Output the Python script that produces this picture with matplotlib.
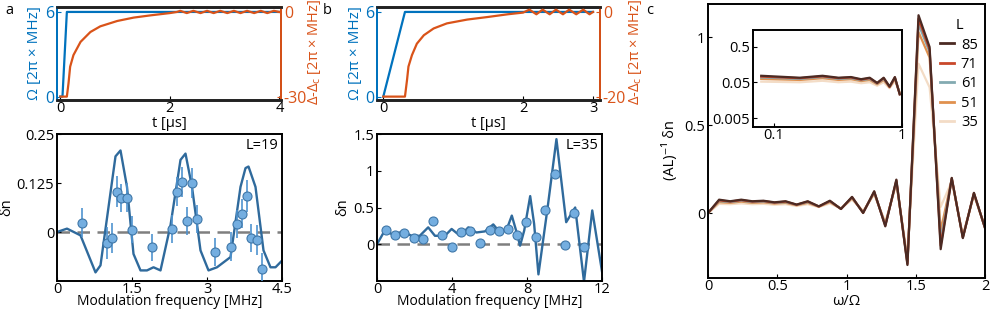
import numpy as np
import matplotlib
matplotlib.use('Agg')
import matplotlib.pyplot as plt

plt.rcParams['font.family'] = ['Open Sans', 'DejaVu Sans']
plt.rcParams['mathtext.fontset'] = 'custom'
plt.rcParams['mathtext.rm'] = 'Open Sans'
plt.rcParams['font.size'] = 10.5
plt.rcParams['axes.linewidth'] = 1.4
plt.rcParams['xtick.direction'] = 'in'
plt.rcParams['ytick.direction'] = 'in'
plt.rcParams['xtick.major.size'] = 3
plt.rcParams['ytick.major.size'] = 3

FS = 10.5
BLUE = '#0072BD'
ORANGE = '#D95319'
LINE = '#2f6a9c'
DOT = '#74aee0'
DOTEDGE = '#3f77a8'
ERR = '#4f93cf'

# ---------------- data: panel a (top) ----------------
a_t_rabi = [0, 0.04, 0.12, 4.0]
a_rabi = [0, 0, 6, 6]
a_t_det = [0, 0.12, 0.15, 0.18, 0.24, 0.37, 0.55, 0.73, 1.04, 1.34, 1.65, 2.0, 2.13,
           2.19, 2.31, 2.43, 2.56, 2.68, 2.80, 2.92, 3.05, 3.17, 3.29, 3.41, 3.54,
           3.66, 3.78, 3.90, 4.0]
a_det = [-30, -30, -25.3, -19.4, -15.3, -10.6, -7.1, -5.1, -3.2, -2.0, -1.2, -0.4, 0,
         0.4, -0.4, 0.4, -0.4, 0.4, -0.4, 0.4, -0.4, 0.4, -0.4, 0.4, -0.4,
         0.4, -0.4, 0.4, 0]

# ---------------- data: panel b (top) ----------------
b_t_rabi = [0, 0.31, 3.0]
b_rabi = [0, 6, 6]
b_t_det = [0, 0.31, 0.34, 0.36, 0.41, 0.48, 0.58, 0.72, 0.91, 1.2, 1.49, 1.78, 2.0,
           2.09, 2.19, 2.28, 2.38, 2.47, 2.57, 2.66, 2.76, 2.86, 2.95, 3.0]
b_det = [-20, -20, -16, -12.9, -10.2, -7.5, -5.5, -3.9, -2.7, -1.8, -1.2, -0.55, -0.15,
         0.55, -0.55, 0.55, -0.55, 0.55, -0.55, 0.55, -0.55, 0.55, -0.55, 0]

# ---------------- data: panel a (bottom), L=19 ----------------
a_f_th = [0, 0.2, 0.47, 0.77, 0.87, 1.17, 1.27, 1.4, 1.53, 1.67, 1.8, 1.93, 2.07,
          2.27, 2.47, 2.57, 2.7, 2.87, 3.03, 3.2, 3.47, 3.67, 3.77, 3.83, 3.97,
          4.13, 4.27, 4.37, 4.5]
a_dn_th = [0, 0.0086, -0.0086, -0.103, -0.085, 0.193, 0.208, 0.115, -0.056, -0.098,
           -0.098, -0.09, -0.098, 0.017, 0.184, 0.2, 0.115, -0.047, -0.098, -0.09,
           -0.064, 0.115, 0.163, 0.167, 0.115, -0.047, -0.09, -0.09, -0.073]
a_f_exp = [0.49, 0.99, 1.1, 1.19, 1.28, 1.4, 1.5, 1.9, 2.29, 2.39, 2.49, 2.59, 2.69,
           2.79, 3.15, 3.48, 3.59, 3.69, 3.79, 3.88, 3.99, 4.1]
a_dn_exp = [0.024, -0.028, -0.015, 0.103, 0.086, 0.088, 0.006, -0.039, 0.007, 0.103,
            0.128, 0.028, 0.126, 0.033, -0.051, -0.037, 0.021, 0.047, 0.092, -0.015,
            -0.021, -0.094]
a_dn_err = [0.037, 0.040, 0.038, 0.040, 0.036, 0.038, 0.035, 0.034, 0.036, 0.037,
            0.038, 0.036, 0.038, 0.035, 0.036, 0.037, 0.036, 0.038, 0.040, 0.036,
            0.038, 0.040]

# ---------------- data: panel b (bottom), L=35 ----------------
b_f_th = [0, 0.41, 0.86, 1.39, 1.84, 2.28, 2.73, 3.09, 3.62, 3.98, 4.43, 4.87, 5.3,
          5.76, 6.2, 6.56, 6.9, 7.19, 7.42, 7.63, 7.85, 8.17, 8.38, 8.61, 9.1, 9.57,
          10.09, 10.57, 11.04, 11.48, 12.0]
b_dn_th = [0, 0.185, 0.13, 0.175, 0.115, 0.115, 0.23, 0.115, 0.115, 0.208, 0.115,
           0.23, 0.16, 0.175, 0.27, 0.16, 0.19, 0.39, 0.185, -0.02, 0.185, 0.655,
           0.277, -0.41, 0.5, 1.43, 0.3, 0.5, -0.51, 0.46, -0.37]
b_f_exp = [0.46, 0.95, 1.45, 1.96, 2.46, 2.96, 3.46, 3.98, 4.46, 4.98, 5.48, 6.0,
           6.48, 6.98, 7.48, 7.96, 8.46, 8.98, 9.48, 10.0, 10.52, 11.02]
b_dn_exp = [0.195, 0.125, 0.157, 0.083, 0.069, 0.31, 0.125, -0.037, 0.17, 0.175,
            0.023, 0.194, 0.185, 0.208, 0.125, 0.3, 0.092, 0.46, 0.955, -0.01, 0.425,
            -0.032]

# ---------------- data: panel c ----------------
w_over_omega = [0, 0.08, 0.16, 0.24, 0.32, 0.40, 0.48, 0.56, 0.64, 0.72, 0.80, 0.88,
                0.96, 1.04, 1.12, 1.20, 1.28, 1.36, 1.44, 1.52, 1.60, 1.68, 1.76,
                1.84, 1.92, 2.00]
dn_L85 = [0, 0.076, 0.067, 0.076, 0.067, 0.070, 0.061, 0.067, 0.048, 0.067, 0.038, 0.070,
          0.023, 0.092, 0.000, 0.124, -0.076, 0.190, -0.296, 1.126, 0.945, -0.206,
          0.200, -0.143, 0.115, -0.086]
dn_L71 = [0, 0.072, 0.065, 0.073, 0.065, 0.068, 0.059, 0.065, 0.047, 0.065, 0.037, 0.068,
          0.023, 0.090, 0.001, 0.121, -0.072, 0.186, -0.290, 1.105, 0.930, -0.185,
          0.198, -0.140, 0.113, -0.085]
dn_L61 = [0, 0.068, 0.062, 0.070, 0.062, 0.065, 0.057, 0.062, 0.046, 0.062, 0.037, 0.066,
          0.024, 0.088, 0.003, 0.118, -0.068, 0.182, -0.285, 1.075, 0.915, -0.150,
          0.196, -0.138, 0.111, -0.084]
dn_L51 = [0, 0.062, 0.058, 0.065, 0.058, 0.061, 0.054, 0.058, 0.044, 0.058, 0.036, 0.062,
          0.025, 0.084, 0.006, 0.114, -0.062, 0.176, -0.275, 1.030, 0.885, -0.100,
          0.192, -0.135, 0.108, -0.082]
dn_L35 = [0, 0.052, 0.050, 0.055, 0.050, 0.052, 0.047, 0.050, 0.040, 0.050, 0.034, 0.054,
          0.026, 0.076, 0.012, 0.105, -0.050, 0.165, -0.250, 0.850, 0.715, 0.035,
          0.180, -0.125, 0.100, -0.078]
L_labels = ['85', '71', '61', '51', '35']
L_colors = ['#4b2a23', '#c9482a', '#83aab1', '#e0914e', '#f3dcc6']
L_series = [dn_L85, dn_L71, dn_L61, dn_L51, dn_L35]

W, H = 997, 310
fig = plt.figure(figsize=(W / 100, H / 100), dpi=100)


def box(l, t, r, b):
    return [l / W, 1 - b / H, (r - l) / W, (b - t) / H]


def put_xlabel(ax, text, bottom_px, ax_bottom_px, ax_height_px, size=FS):
    ax.set_xlabel(text, fontsize=size)
    ax.xaxis.label.set_va('bottom')
    ax.xaxis.set_label_coords(0.5, -(bottom_px - ax_bottom_px) / ax_height_px)


def top_panel(rect, t_r, r, t_d, d, xlim, dlim, dticks, xticks, ylx, yrx):
    ax = fig.add_axes(rect)
    ax.plot(t_r, r, color=BLUE, lw=1.6, zorder=3)
    ax.set_xlim(*xlim)
    ax.set_ylim(-0.24, 6.35)
    ax.set_yticks([0, 6])
    ax.set_yticklabels(['0', '6'], color=BLUE, fontsize=11.5)
    ax.tick_params(axis='y', colors=BLUE, labelcolor=BLUE, pad=2)
    ax.set_xticks(xticks)
    ax.tick_params(axis='x', pad=0.5, labelsize=FS)
    ax.set_ylabel('Ω [2π × MHz]', color=BLUE, fontsize=11)
    ax.yaxis.set_label_coords(ylx, 0.5)
    put_xlabel(ax, 't [μs]', 131, 100, 93)
    ax.spines['left'].set_color(BLUE)
    for s in ['top', 'bottom']:
        ax.spines[s].set_linewidth(1.9)
        ax.spines[s].set_color('#222222')
    ax2 = ax.twinx()
    ax2.plot(t_d, d, color=ORANGE, lw=1.6, zorder=3)
    span = dlim[1] - dlim[0]
    ax2.set_ylim(dlim[0] - span * 0.04, dlim[1] + span * 0.0585)
    ax2.set_yticks(dticks)
    ax2.set_yticklabels([str(v) for v in dticks], fontsize=11.5)
    ax2.tick_params(axis='y', colors=ORANGE, labelcolor=ORANGE, pad=2)
    ax2.set_ylabel('Δ-Δ$_\\mathrm{c}$ [2π × MHz]', color=ORANGE, rotation=90, fontsize=10.5)
    ax2.yaxis.set_label_coords(yrx, 0.52)
    ax2.spines['right'].set_color(ORANGE)
    ax2.spines['left'].set_color(BLUE)
    for s in ['top', 'bottom']:
        ax2.spines[s].set_linewidth(1.9)
        ax2.spines[s].set_color('#222222')
    return ax


top_panel(box(57, 7, 281, 100), a_t_rabi, a_rabi, a_t_det, a_det,
          (-0.06, 4.03), (-30, 0), [-30, 0], [0, 2, 4], -0.065, 1.11)
top_panel(box(377, 7, 600, 100), b_t_rabi, b_rabi, b_t_det, b_det,
          (-0.09, 3.1), (-20, 0), [-20, 0], [0, 2, 3], -0.065, 1.122)

# ---------------- bottom a ----------------
ax = fig.add_axes(box(57, 134, 282, 281))
ax.axhline(0, color='#7f7f7f', lw=1.8, dashes=(5, 3), zorder=1)
ax.plot(a_f_th, a_dn_th, color=LINE, lw=1.7, zorder=2)
ax.errorbar(a_f_exp, a_dn_exp, yerr=a_dn_err, fmt='o', ms=6.5, mfc=DOT, mec=DOTEDGE,
            mew=0.8, ecolor=ERR, elinewidth=1.2, capsize=0, zorder=3)
ax.set_xlim(0, 4.5)
ax.set_ylim(-0.125, 0.25)
ax.set_xticks([0, 1.5, 3, 4.5])
ax.set_xticklabels(['0', '1.5', '3', '4.5'])
ax.set_yticks([0, 0.125, 0.25])
ax.set_yticklabels(['0', '0.125', '0.25'])
ax.tick_params(labelsize=FS, pad=2)
ax.tick_params(axis='x', pad=0.5)
put_xlabel(ax, 'Modulation frequency [MHz]', 309, 281, 147, size=10)
ax.set_ylabel('δn', fontsize=FS)
ax.yaxis.set_label_coords(-0.19, 0.5)
ax.text(0.985, 0.97, 'L=19', transform=ax.transAxes, ha='right', va='top', fontsize=FS)

# ---------------- bottom b ----------------
ax = fig.add_axes(box(377, 134, 602, 281))
ax.axhline(0, color='#7f7f7f', lw=1.8, dashes=(5, 3), zorder=1)
ax.plot(b_f_th, b_dn_th, color=LINE, lw=1.7, zorder=2)
ax.plot(b_f_exp, b_dn_exp, 'o', ms=6.5, mfc=DOT, mec=DOTEDGE, mew=0.8, zorder=3)
ax.set_xlim(0, 12)
ax.set_ylim(-0.5, 1.5)
ax.set_xticks([0, 4, 8, 12])
ax.set_yticks([0, 0.5, 1, 1.5])
ax.set_yticklabels(['0', '0.5', '1', '1.5'])
ax.tick_params(labelsize=FS, pad=2)
ax.tick_params(axis='x', pad=0.5)
put_xlabel(ax, 'Modulation frequency [MHz]', 309, 281, 147, size=10)
ax.set_ylabel('δn', fontsize=FS)
ax.yaxis.set_label_coords(-0.12, 0.5)
ax.text(0.985, 0.97, 'L=35', transform=ax.transAxes, ha='right', va='top', fontsize=FS)

# ---------------- panel c ----------------
axc = fig.add_axes(box(708, 4, 985, 278))
handles = []
for lab, col, ser in reversed(list(zip(L_labels, L_colors, L_series))):
    h, = axc.plot(w_over_omega, ser, color=col, lw=1.6)
    handles.append(h)
handles = handles[::-1]
axc.set_xlim(0, 2)
axc.set_ylim(-0.37, 1.19)
axc.set_xticks([0, 0.5, 1, 1.5, 2])
axc.set_xticklabels(['0', '0.5', '1', '1.5', '2'])
axc.set_yticks([0, 0.5, 1])
axc.set_yticklabels(['0', '0.5', '1'])
axc.tick_params(labelsize=FS, pad=2)
axc.tick_params(axis='x', pad=0.5)
put_xlabel(axc, 'ω/Ω', 309, 278, 274)
axc.set_ylabel('(AL)⁻¹ δn', fontsize=FS)
axc.yaxis.set_label_coords(-0.11, 0.467)
leg = axc.legend(handles, L_labels, title='L', loc='upper right',
                 bbox_to_anchor=(1.0, 0.975), frameon=False, handlelength=0.9,
                 handletextpad=0.5, labelspacing=0.3, borderaxespad=0.1,
                 fontsize=FS, title_fontsize=FS)
for ln in leg.get_lines():
    ln.set_linewidth(2)

axi = fig.add_axes(box(753, 30, 902, 127))
for lab, col, ser in reversed(list(zip(L_labels, L_colors, L_series))):
    axi.plot(w_over_omega[1:13], ser[1:13], color=col, lw=1.6)
axi.set_xscale('log')
axi.set_yscale('log')
axi.set_xlim(0.069, 1)
axi.set_ylim(0.0028, 1.45)
axi.set_xticks([0.1, 1])
axi.set_xticklabels(['0.1', '1'])
axi.set_yticks([0.005, 0.05, 0.5])
axi.set_yticklabels(['0.005', '0.05', '0.5'])
axi.minorticks_off()
axi.tick_params(labelsize=FS, pad=2)
axi.tick_params(axis='x', pad=0.5)

fig.text(5 / W, 1 - 10 / H, 'a', fontsize=FS, va='center')
fig.text(323 / W, 1 - 10 / H, 'b', fontsize=FS, va='center')
fig.text(646 / W, 1 - 10 / H, 'c', fontsize=FS, va='center')

fig.savefig('out.png', dpi=100)
